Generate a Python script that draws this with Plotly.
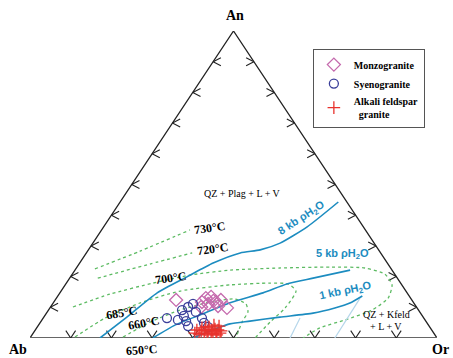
import plotly.graph_objects as go

# ---- sample compositions (normative An and Or, %; Ab = 100 - An - Or) ----
monzo_an = [12.4, 11.7, 13.0, 13.4, 12.1, 11.1, 11.7, 10.4, 9.8, 10.1, 12.4]
monzo_or = [29.7, 36.4, 36.7, 37.8, 39.0, 38.2, 39.9, 41.0, 43.5, 37.0, 40.7]

syeno_an = [6.5, 9.1, 10.1, 11.1, 7.2, 5.5, 3.9, 6.5, 4.9, 3.6, 8.5, 5.9]
syeno_or = [30.4, 32.8, 33.8, 34.5, 34.2, 35.6, 36.9, 39.0, 40.3, 41.9, 36.5, 33.4]

alk_an = [1.6, 2.6, 1.3, 2.3, 3.3, 1.6, 2.6, 1.0, 2.3, 3.6, 1.6,
          2.6, 1.3, 2.9, 2.0, 1.0, 2.6, 3.9, 1.6, 2.3, 3.6, 4.2]
alk_or = [39.7, 39.7, 40.9, 40.9, 40.6, 42.0, 41.7, 43.0, 42.6, 42.2, 43.7,
          43.4, 44.3, 44.0, 44.7, 45.4, 44.9, 44.5, 45.9, 45.8, 41.4, 43.1]

# ---- cotectic curves for different water pressures ----
kb8_an = [0.0, 6.8, 14.7, 19.9, 24.4, 27.7, 28.7, 30.9, 36.2, 44.3]
kb8_or = [17.2, 20.4, 23.9, 28.6, 32.8, 37.8, 42.2, 46.0, 50.0, 53.6]

kb5_an = [0.0, 4.2, 7.5, 11.5, 14.7, 17.6, 19.5, 22.1]
kb5_or = [30.2, 33.5, 38.0, 43.4, 49.9, 54.3, 59.8, 67.6]

kb1_an = [0.0, 4.6, 5.5, 6.8, 8.1, 9.8, 11.4, 13.7]
kb1_or = [40.0, 46.8, 51.3, 58.0, 65.5, 70.0, 72.9, 74.8]

# ---- isotherms ----
t730_an = [22.5, 28.3, 35.2]
t730_or = [4.7, 12.9, 21.7]

t720_an = [19.5, 24.1, 27.7]
t720_or = [6.9, 17.4, 26.0]

t700_an = [10.1, 14.3, 17.9, 20.5, 22.1, 22.8, 23.1, 22.8, 20.8, 17.3, 13.0, 9.1, 5.9, 3.3, 0.0]
t700_or = [5.5, 12.5, 21.3, 29.1, 38.1, 50.0, 62.2, 70.9, 76.8, 80.3, 81.5, 79.5, 74.5, 69.6, 67.1]

t685_an = [0.3, 6.5, 11.4, 15.3, 17.3, 17.9, 17.6, 15.3, 9.8, 5.2, 0.0]
t685_or = [10.9, 15.2, 21.3, 29.2, 40.5, 50.0, 54.6, 57.7, 57.8, 56.4, 55.3]

t660_an = [0.3, 5.2, 9.1, 11.7, 12.7, 11.1, 8.5, 5.2, 0.0]
t660_or = [22.7, 26.9, 32.3, 38.4, 44.0, 47.5, 49.3, 49.5, 50.6]

# faint field-boundary segments near the Ab-Or join
fb1_an = [0.0, 6.5]
fb1_or = [63.9, 63.1]
fb2_an = [0.0, 13.0]
fb2_or = [74.9, 74.6]

tick_pct = [10, 20, 30, 40, 50, 60, 70, 80, 90]

BLUE = "#1c8cc0"
GREEN = "#5dbb63"
SERIF = "Liberation Serif"
SANS = "Liberation Sans"


def project(an, orr):
    """Ternary (An, Or) percentages -> cartesian position in the unit triangle."""
    xs = [o / 100 + a / 200 for a, o in zip(an, orr)]
    ys = [a / 100 for a in an]
    return xs, ys


fig = go.Figure()

# triangle frame
fx, fy = project([0, 0, 100, 0], [0, 100, 0, 0])
fig.add_trace(go.Scatter(x=fx, y=fy, mode="lines", line=dict(color="#222", width=1.3),
                         hoverinfo="skip", showlegend=False, cliponaxis=False))
bx, by = project([0, 0], [0, 100])
fig.add_trace(go.Scatter(x=bx, y=by, mode="lines", line=dict(color="#666", width=2.2),
                         hoverinfo="skip", showlegend=False, cliponaxis=False))

# chevron ticks on each edge (arm lengths in axis fractions)
ax_, ay_ = 0.019, 0.013
bx_, by_ = 0.012, 0.024
tx, ty = [], []
for p in tick_pct:
    # left edge (Ab-An)
    (x0,), (y0,) = project([p], [0])
    tx += [x0 + ax_, x0, x0 + ax_, None]
    ty += [y0 + ay_, y0, y0 - ay_, None]
    # right edge (Or-An)
    (x1,), (y1,) = project([p], [100 - p])
    tx += [x1 - ax_, x1, x1 - ax_, None]
    ty += [y1 + ay_, y1, y1 - ay_, None]
    # base (Ab-Or)
    (x2,), (y2,) = project([0], [p])
    tx += [x2 - bx_, x2, x2 + bx_, None]
    ty += [y2 + by_, y2, y2 + by_, None]
fig.add_trace(go.Scatter(x=tx, y=ty, mode="lines", line=dict(color="#222", width=1.1),
                         hoverinfo="skip", showlegend=False))

# isotherms (dotted green)
for an, orr in [(t730_an, t730_or), (t720_an, t720_or), (t700_an, t700_or),
                (t685_an, t685_or), (t660_an, t660_or)]:
    x, y = project(an, orr)
    fig.add_trace(go.Scatter(x=x, y=y, mode="lines", line=dict(color=GREEN, width=1.3, dash="dot",
                             shape="spline", smoothing=0.6),
                             hoverinfo="skip", showlegend=False))

# faint boundaries
for an, orr in [(fb1_an, fb1_or), (fb2_an, fb2_or)]:
    x, y = project(an, orr)
    fig.add_trace(go.Scatter(x=x, y=y, mode="lines", line=dict(color="#b5d6ea", width=1.2),
                             hoverinfo="skip", showlegend=False))

# pressure cotectics (solid blue)
for an, orr in [(kb8_an, kb8_or), (kb5_an, kb5_or), (kb1_an, kb1_or)]:
    x, y = project(an, orr)
    fig.add_trace(go.Scatter(x=x, y=y, mode="lines", line=dict(color=BLUE, width=1.6,
                             shape="spline", smoothing=0.6),
                             hoverinfo="skip", showlegend=False))

# samples
x, y = project(monzo_an, monzo_or)
fig.add_trace(go.Scatter(x=x, y=y, mode="markers", name="Monzogranite",
                         marker=dict(symbol="diamond-open", size=10, color="#c56aad",
                                     line=dict(width=1.3))))
x, y = project(syeno_an, syeno_or)
fig.add_trace(go.Scatter(x=x, y=y, mode="markers", name="Syenogranite",
                         marker=dict(symbol="circle-open", size=9, color="#3b3f9a",
                                     line=dict(width=1.3))))
x, y = project(alk_an, alk_or)
fig.add_trace(go.Scatter(x=x, y=y, mode="markers", name="Alkali feldspar<br>  granite",
                         marker=dict(symbol="cross-thin", size=9, color="#e8322c",
                                     line=dict(width=1.3, color="#e8322c"))))

ann = []


def label(text, x, y, size=12, color="black", family=SERIF, angle=0, bold=True):
    ann.append(dict(text=f"<b>{text}</b>" if bold else text, x=x, y=y,
                    xref="paper", yref="paper", xanchor="center", yanchor="middle",
                    showarrow=False, textangle=angle,
                    font=dict(family=family, size=size, color=color)))


label("An", 0.504, 1.052, size=14)
label("Ab", -0.03, -0.037, size=14)
label("Or", 1.008, -0.036, size=14)
label("QZ + Plag + L + V", 0.523, 0.472, size=10, bold=False)
label("730°C", 0.44, 0.358, angle=-8)
label("720°C", 0.448, 0.29, angle=-8)
label("700°C", 0.344, 0.195, angle=-8)
label("685°C", 0.224, 0.081, angle=-10)
label("660°C", 0.28, 0.049, angle=-10)
label("650°C", 0.275, -0.038, angle=-4)
label("8 kb ρH<sub>2</sub>O", 0.668, 0.391, size=11, color=BLUE, family=SANS, angle=-33)
label("5 kb ρH<sub>2</sub>O", 0.769, 0.272, size=11, color=BLUE, family=SANS)
label("1 kb ρH<sub>2</sub>O", 0.776, 0.152, size=11, color=BLUE, family=SANS, angle=-12)
label("QZ + Kfeld", 0.875, 0.075, size=10, bold=False)
label("+ L + V", 0.875, 0.036, size=10, bold=False)

fig.update_layout(
    width=453, height=358,
    margin=dict(l=30, r=16, t=31, b=20),
    paper_bgcolor="white", plot_bgcolor="white",
    xaxis=dict(range=[0, 1], visible=False, fixedrange=True),
    yaxis=dict(range=[0, 1], visible=False, fixedrange=True),
    annotations=ann,
    legend=dict(x=0.695, y=0.941, xanchor="left", yanchor="top",
                bordercolor="#555", borderwidth=1, bgcolor="white",
                font=dict(family=SERIF, size=10, color="black", weight="bold"),
                tracegroupgap=2, itemwidth=30),
    showlegend=True,
)

fig.write_html("out.html")
